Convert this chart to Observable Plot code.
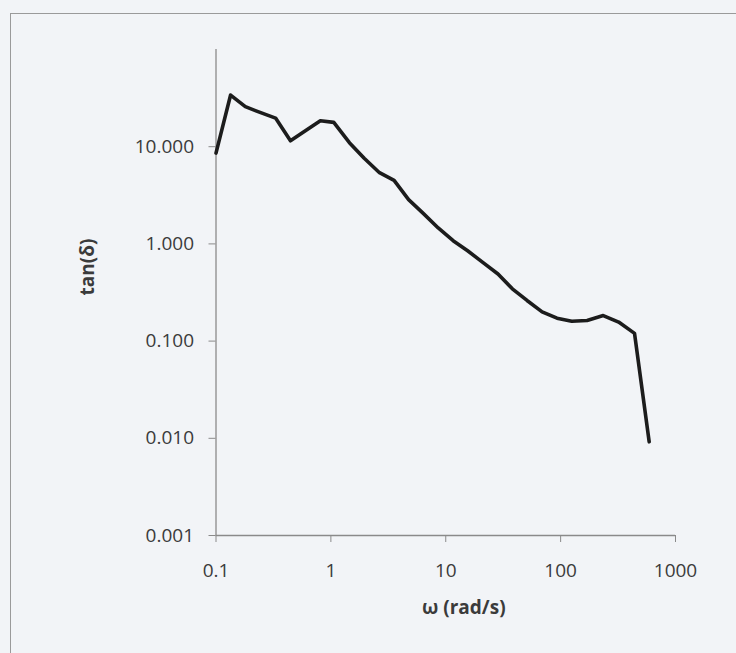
<!DOCTYPE html>
<html>
<head>
<meta charset="utf-8">
<script src="https://cdn.jsdelivr.net/npm/d3@7"></script>
<script src="https://cdn.jsdelivr.net/npm/@observablehq/plot@0.6"></script>
<style>
  html, body { margin: 0; padding: 0; background: #f2f4f7; }
  #wrap { position: relative; width: 736px; height: 653px; overflow: hidden; }
  #frame { position: absolute; left: 10px; top: 13px; width: 900px; height: 900px;
           border-left: 1.5px solid #9a9a9a; border-top: 1.5px solid #9a9a9a; }
  #chart { position: absolute; left: 0; top: 0; }
</style>
</head>
<body>
<div id="wrap"><div id="frame"></div><div id="chart"></div></div>
<script>
// angular frequency ω (rad/s)
const omega = [0.100, 0.134, 0.180, 0.245, 0.330, 0.445, 0.600, 0.810, 1.06, 1.45,
               1.95, 2.65, 3.55, 4.75, 6.4, 8.6, 11.6, 15.5, 21, 28.5,
               38, 51, 69, 93, 125, 170, 235, 320, 440, 590];
// loss tangent tan(δ)
const tanDelta = [8.6, 34.0, 25.8, 22.4, 19.7, 11.5, 14.6, 18.5, 17.8, 11.0,
                  7.6, 5.4, 4.5, 2.85, 2.05, 1.46, 1.08, 0.85, 0.645, 0.49,
                  0.345, 0.262, 0.200, 0.172, 0.160, 0.163, 0.183, 0.157, 0.120, 0.0092];

const xTicks = [0.1, 1, 10, 100, 1000];
const xTickLabels = ["0.1", "1", "10", "100", "1000"];
const yTicks = [0.001, 0.01, 0.1, 1, 10];
const yTickLabels = ["0.001", "0.010", "0.100", "1.000", "10.000"];
const xTitle = "ω (rad/s)";
const yTitle = "tan(δ)";

const data = omega.map((w, i) => ({w, t: tanDelta[i]}));

const textColor = "#3b3b3b";
const axisColor = "#8a8a8a";

const chart = Plot.plot({
  width: 736,
  height: 653,
  marginLeft: 215.5,
  marginRight: 61,
  marginTop: 49,
  marginBottom: 118,
  style: {background: "transparent", fontFamily: "'Open Sans', sans-serif", fontSize: "19px", color: textColor},
  x: {type: "log", domain: [0.1, 1000]},
  y: {type: "log", domain: [0.001, 100]},
  marks: [
    Plot.ruleX([0.1], {stroke: axisColor, strokeWidth: 1.3}),
    Plot.ruleY([0.001], {stroke: axisColor, strokeWidth: 1.3}),
    Plot.axisX({ticks: xTicks, tickFormat: (d) => xTickLabels[xTicks.indexOf(d)],
                tickSize: 7, tickPadding: 21, stroke: axisColor, fill: textColor, label: null, fontSize: 19}),
    Plot.axisY({ticks: yTicks, tickFormat: (d) => yTickLabels[yTicks.indexOf(d)],
                tickSize: 7, tickPadding: 15, stroke: axisColor, fill: textColor, label: null, fontSize: 19}),
    Plot.line(data, {x: "w", y: "t", stroke: "#1c1c1c", strokeWidth: 3.6, strokeLinejoin: "round", strokeLinecap: "round"}),
    Plot.text([xTitle], {frameAnchor: "bottom", dx: 18, dy: 72, lineAnchor: "middle", fontWeight: "bold", fontSize: 19, fill: textColor}),
    Plot.text([yTitle], {frameAnchor: "left", dx: -128, dy: 3, rotate: -90, lineAnchor: "middle", fontWeight: "bold", fontSize: 19, fill: textColor})
  ]
});
document.getElementById("chart").appendChild(chart);
</script>
</body>
</html>
